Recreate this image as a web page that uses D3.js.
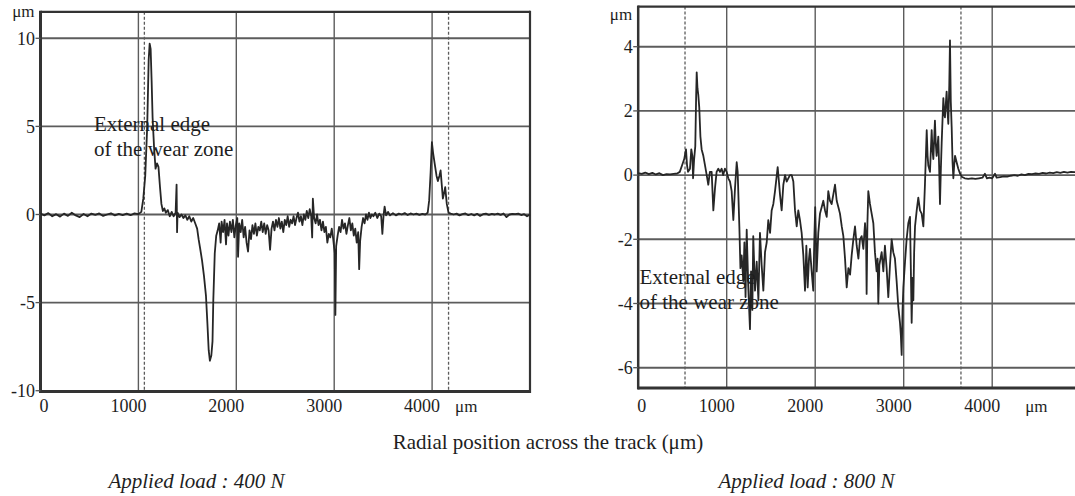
<!DOCTYPE html>
<html><head><meta charset="utf-8">
<script src="https://cdn.jsdelivr.net/npm/d3@7"></script>
<style>
body{margin:0;background:#fff}
svg{display:block}
text{font-family:"Liberation Serif","Times New Roman",serif;fill:#1e1e1e}
</style>
</head><body><svg id="c" width="1075" height="496"></svg>
<script>
// ---------- data ----------
const xTicks = [0, 1000, 2000, 3000, 4000];
const leftYTicks = [-10, -5, 0, 5, 10];
const rightYTicks = [-6, -4, -2, 0, 2, 4];
const leftEdgeMarks = [1061, 4168];
const rightEdgeMarks = [529, 3647];
const leftTitle = "Applied load : 400 N";
const rightTitle = "Applied load : 800 N";
const axisTitle = "Radial position across the track (\u03bcm)";
const noteLines = ["External edge", "of the wear zone"];

const leftProfile = [
[0,0.05],[40,-0.05],[80,0.08],[120,-0.1],[160,0.02],[200,-0.12],[240,0.05],[280,-0.08],[320,0.1],[360,-0.05],
[400,-0.15],[440,0.03],[480,-0.1],[520,0.05],[560,-0.02],[600,0.06],[640,-0.08],[680,0.0],[720,0.07],[760,-0.05],
[800,0.04],[840,-0.03],[880,0.05],[920,-0.04],[960,0.06],[1000,0.02],[1030,0.15],
[1050,0.9],[1070,2.2],[1090,5.0],[1105,8.8],[1115,9.7],[1125,9.4],[1135,7.6],[1145,5.5],[1160,3.8],[1175,2.6],
[1190,2.9],[1205,2.7],[1220,1.6],[1235,0.6],[1250,0.2],[1265,0.35],[1280,0.1],[1300,0.25],[1320,-0.1],[1340,0.15],
[1360,-0.1],[1380,0.1],[1390,1.7],[1395,-1.0],[1400,0.1],[1420,-0.15],[1440,0.0],[1460,-0.2],[1480,-0.05],[1500,-0.3],
[1520,-0.1],[1540,-0.4],[1560,-0.2],[1580,-0.5],[1600,-0.8],[1615,-1.4],[1630,-1.9],[1650,-2.6],[1670,-3.5],[1690,-4.6],
[1705,-6.2],[1718,-7.7],[1730,-8.3],[1745,-8.0],[1757,-7.2],[1765,-4.9],[1780,-2.2],[1795,-1.2],[1810,-0.9],[1825,-0.5],
[1840,-1.6],[1850,-0.4],[1865,-1.0],[1880,-0.3],[1895,-1.7],[1905,-0.5],[1920,-1.2],[1935,-0.4],[1950,-1.0],[1965,-0.3],
[1980,-1.3],[1995,-0.6],[2010,-0.2],[2018,-2.4],[2030,-0.5],[2045,-1.0],[2060,-0.3],[2075,-1.3],[2090,-0.7],[2105,-1.6],
[2120,-2.1],[2135,-0.9],[2150,-1.4],[2165,-0.6],[2180,-1.1],[2195,-0.5],[2210,-1.2],[2225,-0.7],[2240,-0.9],[2255,-0.4],
[2270,-1.0],[2285,-0.5],[2300,-1.1],[2315,-0.6],[2330,-0.9],[2345,-2.0],[2360,-0.8],[2375,-0.4],[2390,-0.9],[2405,-0.3],
[2420,-0.7],[2435,-0.2],[2450,-0.8],[2465,-0.4],[2480,-1.0],[2495,-0.3],[2510,-0.6],[2525,-0.1],[2540,-0.7],[2555,-0.3],
[2570,-0.5],[2585,-0.1],[2600,-0.6],[2615,-0.2],[2630,0.1],[2645,-0.4],[2660,-0.1],[2675,-0.6],[2690,0.0],[2705,-0.3],
[2720,0.2],[2735,-0.2],[2750,0.3],[2765,-0.1],[2775,-1.3],[2782,0.9],[2795,-0.2],[2810,-0.5],[2825,0.0],[2840,-0.6],
[2855,-0.3],[2870,-0.9],[2885,-0.4],[2900,-1.0],[2915,-0.7],[2930,-1.6],[2945,-1.1],[2960,-1.3],[2975,-0.8],[2990,-1.4],
[3005,-2.2],[3012,-5.7],[3020,-1.8],[3035,-1.2],[3050,-0.7],[3065,-1.0],[3080,-0.3],[3095,-0.8],[3110,-0.5],[3125,-1.1],
[3140,-0.6],[3155,-0.2],[3170,-0.9],[3185,-0.5],[3200,-1.2],[3215,-0.8],[3230,-1.6],[3245,-1.0],[3255,-3.1],[3265,-1.5],
[3280,-0.7],[3295,-0.2],[3310,-0.5],[3325,0.0],[3340,-0.3],[3355,0.1],[3370,-0.2],[3385,0.0],[3400,-0.1],[3420,0.1],
[3440,-0.2],[3460,0.05],[3480,-0.1],[3492,-1.1],[3505,0.0],[3515,0.45],[3530,-0.05],[3550,0.15],[3570,-0.05],[3600,0.08],
[3630,-0.05],[3660,0.05],[3690,0.0],[3720,0.08],[3750,-0.03],[3780,0.06],[3810,0.0],[3840,0.05],[3870,-0.02],[3900,0.04],
[3930,0.0],[3955,0.1],[3970,0.8],[3985,2.4],[3998,4.1],[4010,3.5],[4026,2.9],[4045,2.2],[4059,1.9],[4075,2.2],
[4087,2.5],[4100,1.6],[4110,0.9],[4122,1.2],[4134,1.55],[4150,0.6],[4168,0.1],[4190,0.05],[4220,0.0],[4250,0.05],
[4280,-0.05],[4310,0.02],[4340,0.06],[4370,-0.04],[4400,0.03],[4430,-0.05],[4460,0.04],[4490,-0.08],[4520,0.02],[4550,0.05],
[4580,-0.02],[4610,0.04],[4640,0.0],[4670,0.05],[4700,-0.02],[4730,0.06],[4760,-0.15],[4790,0.0],[4820,0.04],[4850,0.02],
[4880,0.05],[4910,-0.03],[4940,0.02],[4970,-0.1],[5000,0.0]
];

const rightProfile = [
[0,0.06],[40,0.04],[80,0.08],[120,0.03],[160,0.07],[200,0.02],[240,0.06],[280,0.0],[320,0.03],[360,0.02],
[400,0.04],[440,0.05],[470,0.1],[495,0.3],[520,0.5],[540,0.8],[552,0.3],[563,0.1],[585,0.2],[600,0.8],
[612,0.6],[620,-0.1],[632,0.5],[645,0.9],[655,2.5],[661,3.2],[670,2.7],[679,2.5],[690,2.1],[703,1.2],
[717,0.8],[736,0.6],[755,0.3],[774,0.0],[792,-0.3],[810,0.1],[830,0.1],[849,-1.1],[868,-0.4],[886,0.1],
[905,0.2],[924,0.1],[943,0.2],[960,0.0],[980,0.2],[1000,0.1],[1018,-0.1],[1037,-0.2],[1056,-0.5],[1075,-1.4],
[1094,-0.4],[1113,0.4],[1124,0.1],[1143,-1.6],[1155,-2.9],[1169,-2.5],[1188,-3.3],[1200,-2.1],[1213,-3.8],[1226,-1.7],
[1244,-3.5],[1263,-4.8],[1275,-3.0],[1290,-4.2],[1300,-1.9],[1320,-3.6],[1339,-2.7],[1358,-3.9],[1376,-1.8],[1395,-2.8],
[1414,-3.6],[1433,-2.4],[1452,-2.1],[1470,-1.4],[1490,-1.8],[1508,-1.1],[1527,-0.9],[1546,-0.5],[1562,-0.1],[1576,0.25],
[1590,-0.2],[1602,-0.6],[1621,-1.1],[1640,-0.3],[1659,0.0],[1678,-0.2],[1696,-0.1],[1715,0.0],[1734,0.0],[1753,-0.2],
[1772,-1.1],[1791,-1.6],[1809,-1.1],[1828,-1.4],[1847,-1.8],[1866,-2.5],[1885,-3.6],[1900,-2.2],[1915,-3.5],[1930,-2.6],
[1941,-2.3],[1960,-3.0],[1978,-3.6],[1990,-2.0],[2000,-1.0],[2017,-3.0],[2035,-1.8],[2054,-1.2],[2073,-1.0],[2092,-0.8],
[2111,-1.1],[2130,-1.3],[2148,-0.5],[2167,-0.8],[2186,-0.9],[2205,-0.6],[2224,-0.3],[2243,-0.8],[2262,-1.0],[2280,-1.2],
[2300,-1.6],[2318,-1.9],[2337,-2.6],[2356,-3.5],[2375,-2.9],[2394,-3.1],[2412,-2.5],[2431,-2.0],[2450,-1.6],[2469,-2.2],
[2488,-2.6],[2506,-2.0],[2525,-1.9],[2544,-2.3],[2563,-1.5],[2575,-2.0],[2581,-3.7],[2590,-1.5],[2600,-0.5],[2619,-0.9],
[2638,-1.2],[2657,-1.5],[2675,-2.4],[2694,-3.0],[2705,-2.6],[2713,-4.0],[2725,-2.8],[2751,-2.4],[2770,-3.0],[2788,-2.2],
[2807,-2.9],[2826,-3.8],[2845,-2.8],[2864,-2.0],[2882,-2.4],[2901,-2.6],[2920,-3.3],[2939,-4.1],[2958,-4.6],[2968,-5.0],
[2977,-5.6],[2987,-4.2],[2996,-3.5],[3015,-2.7],[3033,-2.0],[3052,-1.5],[3071,-1.3],[3080,-2.8],[3090,-4.6],[3100,-3.2],
[3109,-3.9],[3118,-2.4],[3128,-1.6],[3147,-1.1],[3165,-0.7],[3184,-1.1],[3203,-1.2],[3222,-1.6],[3240,-0.3],[3260,1.4],
[3270,0.6],[3278,0.3],[3297,0.1],[3316,1.4],[3325,0.8],[3335,0.5],[3353,1.7],[3362,1.0],[3372,0.6],[3391,1.2],
[3400,0.3],[3410,-0.9],[3420,0.2],[3429,1.0],[3448,2.4],[3458,1.9],[3466,1.8],[3485,2.6],[3495,2.0],[3504,1.6],
[3515,2.8],[3523,4.2],[3532,2.3],[3542,1.5],[3552,0.4],[3561,-0.1],[3570,0.3],[3580,0.6],[3598,0.4],[3617,0.2],
[3636,0.05],[3655,-0.05],[3690,-0.1],[3730,-0.12],[3770,-0.1],[3810,-0.12],[3850,-0.1],[3890,-0.08],[3918,0.04],[3940,-0.1],
[3970,-0.08],[4000,-0.1],[4032,0.04],[4050,-0.08],[4090,-0.06],[4130,-0.04],[4170,-0.05],[4210,-0.02],[4250,0.0],[4290,-0.02],
[4330,0.02],[4370,0.0],[4410,0.04],[4450,0.03],[4490,0.05],[4530,0.04],[4570,0.07],[4610,0.05],[4650,0.08],[4690,0.06],
[4730,0.09],[4770,0.07],[4810,0.1],[4850,0.08],[4890,0.1],[4930,0.09],[4970,0.1],[5000,0.1]
];

// ---------- drawing ----------
const svg = d3.select("#c");
const FONT_TICK = 18;

function panel(cfg) {
  const x = d3.scaleLinear().domain([0, 5000]).range(cfg.xRange);
  const y = d3.scaleLinear().domain(cfg.yDomain).range(cfg.yRange);
  const g = svg.append("g");
  const top = y(cfg.yTop), bot = y(cfg.yBottom);
  const x0 = x(0), x1 = x(5000);

  g.selectAll(".hg").data(cfg.yTicks.filter(v => v > cfg.yBottom + 0.2))
    .enter().append("line")
    .attr("x1", x0).attr("x2", x1)
    .attr("y1", d => y(d)).attr("y2", d => y(d))
    .attr("stroke", "#5c5c5c").attr("stroke-width", 1.9);
  g.selectAll(".vg").data(xTicks.filter(v => v > 0))
    .enter().append("line")
    .attr("x1", d => x(d)).attr("x2", d => x(d))
    .attr("y1", top).attr("y2", bot)
    .attr("stroke", "#5c5c5c").attr("stroke-width", 1.4);
  g.selectAll(".dg").data(cfg.edges)
    .enter().append("line")
    .attr("x1", d => x(d)).attr("x2", d => x(d))
    .attr("y1", top).attr("y2", bot)
    .attr("stroke", "#5c5c5c").attr("stroke-width", 1.3)
    .attr("stroke-dasharray", "3,2");

  g.append("line").attr("x1", x0).attr("x2", x1).attr("y1", top).attr("y2", top)
    .attr("stroke", "#333").attr("stroke-width", 2.2);
  g.append("line").attr("x1", x0).attr("x2", x1).attr("y1", bot).attr("y2", bot)
    .attr("stroke", "#333").attr("stroke-width", 3);
  g.append("line").attr("x1", x0).attr("x2", x0).attr("y1", top - 1).attr("y2", bot + 1.5)
    .attr("stroke", "#333").attr("stroke-width", cfg.leftW);
  if (cfg.rightBorder) {
    g.append("line").attr("x1", x1).attr("x2", x1).attr("y1", top - 1).attr("y2", bot + 1.5)
      .attr("stroke", "#333").attr("stroke-width", 2.2);
  }

  g.selectAll(".yt").data(cfg.yTicks).enter().append("line")
    .attr("x1", x0 - 5).attr("x2", x0)
    .attr("y1", d => y(d)).attr("y2", d => y(d))
    .attr("stroke", "#555").attr("stroke-width", 1.3);
  g.selectAll(".yl").data(cfg.yTicks).enter().append("text")
    .attr("x", x0 - 5.5).attr("y", d => y(d)).attr("dy", "0.35em")
    .attr("text-anchor", "end").attr("font-size", FONT_TICK)
    .text(d => d);
  g.append("text").attr("x", x0 - 6).attr("y", cfg.unitY)
    .attr("text-anchor", "end").attr("font-size", 17).text("\u03bcm");

  g.selectAll(".xl").data(xTicks).enter().append("text")
    .attr("x", d => x(d) + (d === 0 ? 3.5 : -10)).attr("y", 411.5)
    .attr("text-anchor", "middle").attr("font-size", FONT_TICK)
    .text(d => d);
  g.append("text").attr("x", x(4000) + cfg.unitDx).attr("y", 411.5)
    .attr("font-size", 17).text("\u03bcm");

  const line = d3.line().x(d => x(d[0])).y(d => y(d[1])).curve(d3.curveLinear);
  g.append("path").datum(cfg.data).attr("d", line)
    .attr("fill", "none").attr("stroke", "#262626").attr("stroke-width", 1.8)
    .attr("stroke-linejoin", "round");

  g.selectAll(".note").data(noteLines).enter().append("text")
    .attr("x", cfg.noteX).attr("y", (d, i) => cfg.noteY + i * 25)
    .attr("font-size", 21).text(d => d);

  g.append("text").attr("x", cfg.titleX).attr("y", 488)
    .attr("text-anchor", "middle").attr("font-size", 21)
    .attr("font-style", "italic").text(cfg.title);
}

panel({
  xRange: [40.5, 530], yDomain: [-10, 10], yRange: [390.7, 38.3],
  yTop: 11.5, yBottom: -10.05, yTicks: leftYTicks, edges: leftEdgeMarks,
  leftW: 3, rightBorder: true, unitY: 16.5, unitDx: 23,
  data: leftProfile, noteX: 94, noteY: 131, titleX: 196.5, title: leftTitle
});
panel({
  xRange: [638.2, 1080.7], yDomain: [-6, 4], yRange: [367.7, 46.7],
  yTop: 5.25, yBottom: -6.63, yTicks: rightYTicks, edges: rightEdgeMarks,
  leftW: 2.5, rightBorder: false, unitY: 20, unitDx: 33,
  data: rightProfile, noteX: 639.5, noteY: 284, titleX: 806.5, title: rightTitle
});

svg.append("text").attr("x", 548).attr("y", 449)
  .attr("text-anchor", "middle").attr("font-size", 21).text(axisTitle);
</script>
</body></html>
